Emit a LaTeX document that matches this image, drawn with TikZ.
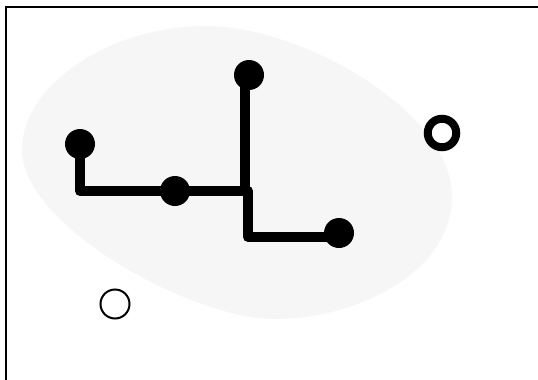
\documentclass[tikz,border=0pt]{standalone}
\begin{document}
\begin{tikzpicture}[x=1pt,y=-1pt,
  dot/.style={circle,fill=black,draw=none,minimum size=30pt,inner sep=0pt},
  wire/.style={line width=10pt,line join=round,line cap=round},
  ring/.style={circle,draw=black,line width=8pt,minimum size=28.5pt,inner sep=0pt},
  hollow/.style={circle,draw=black,line width=2pt,minimum size=29pt,inner sep=0pt}]
  % canvas
  \useasboundingbox (0,0) rectangle (538,380);
  \fill[white] (0,0) rectangle (538,380);
  % frame edges
  \draw[line width=2pt] (5.5,390) -- (5.5,7) -- (545,7);
  % soft region behind the tree
  \fill[black!3.5] (22,150)
    .. controls (22,85) and (110,26) .. (206,26)
    .. controls (300,26) and (452,110) .. (452,197)
    .. controls (452,270) and (360,319) .. (275,319)
    .. controls (190,319) and (22,225) .. (22,150) -- cycle;
  % tree nodes
  \node[dot] (t) at (249,75) {};
  \node[dot] (a) at (80,144) {};
  \node[dot] (m) at (175,191) {};
  \node[dot] (r) at (339,233) {};
  \coordinate (j) at (248,191);
  \coordinate (k) at (248,237);
  % connectors
  \draw[wire] (a.center) |- (m.center) -- (j) -- (k) -- (r.center |- k);
  \draw[wire] ([xshift=-4pt]t.center) -- ([xshift=-3pt]j);
  % loose circles
  \node[ring] (o1) at (442,133) {};
  \node[hollow] (o2) at (115,304) {};
\end{tikzpicture}
\end{document}
